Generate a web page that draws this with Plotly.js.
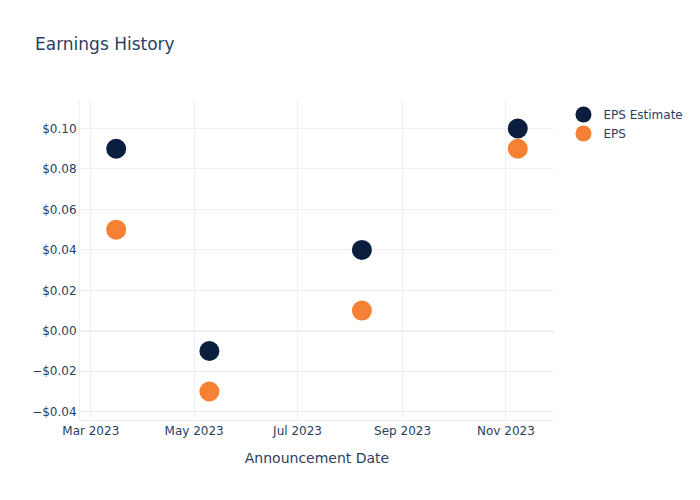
<!DOCTYPE html>
<html>
<head>
<meta charset="utf-8">
<script src="https://cdn.plot.ly/plotly-3.0.1.min.js"></script>
<style>html,body{margin:0;padding:0;}#chart{width:700px;height:500px;}</style>
</head>
<body>
<div id="chart"></div>
<script>
const dates = ["2023-03-16", "2023-05-10", "2023-08-08", "2023-11-08"];
const epsEstimate = [0.09, -0.01, 0.04, 0.10];
const eps = [0.05, -0.03, 0.01, 0.09];

const traces = [
  {x: dates, y: epsEstimate, name: "EPS Estimate", mode: "markers", type: "scatter",
   marker: {color: "#0b1e3e", size: 20}},
  {x: dates, y: eps, name: "EPS", mode: "markers", type: "scatter",
   marker: {color: "#f68135", size: 20}}
];

const layout = {
  width: 700, height: 500,
  font: {family: "'DejaVu Sans', verdana, arial, sans-serif", color: "#2a3f5f", size: 12},
  title: {text: "Earnings History", x: 0.05, xanchor: "left", font: {size: 17}},
  paper_bgcolor: "white", plot_bgcolor: "white",
  xaxis: {title: {text: "Announcement Date", standoff: 15}, type: "date",
    gridcolor: "#EBF0F8", linecolor: "#EBF0F8", zerolinecolor: "#EBF0F8", ticks: "", automargin: true},
  yaxis: {title: {standoff: 15}, tickformat: "$.2f", gridcolor: "#EBF0F8", zerolinecolor: "#EBF0F8",
    zerolinewidth: 2, linecolor: "#EBF0F8", ticks: "", automargin: true},
  legend: {x: 1.02, y: 1, font: {size: 12}},
  hovermode: "closest"
};

Plotly.newPlot("chart", traces, layout, {displayModeBar: false});
</script>
</body>
</html>
